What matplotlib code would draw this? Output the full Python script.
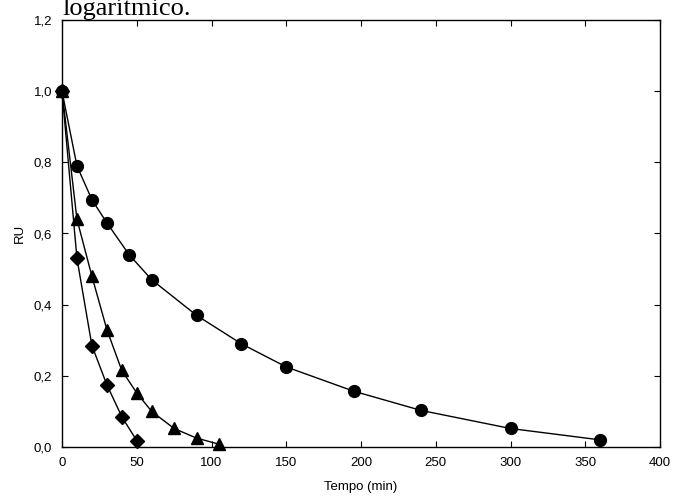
import matplotlib
matplotlib.use("Agg")
import matplotlib.pyplot as plt

circ_x = [0, 10, 20, 30, 45, 60, 90, 120, 150, 195, 240, 300, 360]
circ_y = [1.0, 0.79, 0.695, 0.63, 0.54, 0.47, 0.37, 0.29, 0.225, 0.157, 0.103, 0.052, 0.02]
tri_x = [0, 10, 20, 30, 40, 50, 60, 75, 90, 105]
tri_y = [1.0, 0.64, 0.48, 0.33, 0.215, 0.152, 0.10, 0.052, 0.025, 0.008]
dia_x = [0, 10, 20, 30, 40, 50]
dia_y = [1.0, 0.53, 0.285, 0.175, 0.085, 0.018]

x_ticks = [0, 50, 100, 150, 200, 250, 300, 350, 400]
y_ticks = [0.0, 0.2, 0.4, 0.6, 0.8, 1.0, 1.2]
y_labels = ["0,0", "0,2", "0,4", "0,6", "0,8", "1,0", "1,2"]

plt.rcParams['font.family'] = ['Liberation Sans', 'DejaVu Sans']
fig = plt.figure(figsize=(6.74, 4.99), dpi=100)
ax = fig.add_axes([62/674, 1-447/499, (660-62)/674, (447-20)/499])

ax.plot(circ_x, circ_y, color='black', lw=1, marker='o', ms=8.5, clip_on=False, zorder=3)
ax.plot(tri_x, tri_y, color='black', lw=1, marker='^', ms=8.5, clip_on=False, zorder=3)
ax.plot(dia_x, dia_y, color='black', lw=1, marker='D', ms=7, clip_on=False, zorder=3)

ax.set_xlim(0, 400)
ax.set_ylim(0, 1.2)
ax.set_xticks(x_ticks)
ax.set_yticks(y_ticks)
ax.set_yticklabels(y_labels)
ax.tick_params(direction='in', top=True, right=True, length=4, width=0.8, labelsize=9.5, pad=7)
for s in ax.spines.values():
    s.set_linewidth(1)
ax.set_xlabel("Tempo (min)", fontsize=9.5, labelpad=9)
ax.set_ylabel("RU", fontsize=9.5, labelpad=6)

fig.text(62/674, 1-15/499, "logarítmico.", family=['Liberation Serif', 'DejaVu Serif'],
         fontsize=19, va='baseline', ha='left')

fig.savefig("out.png", dpi=100)
